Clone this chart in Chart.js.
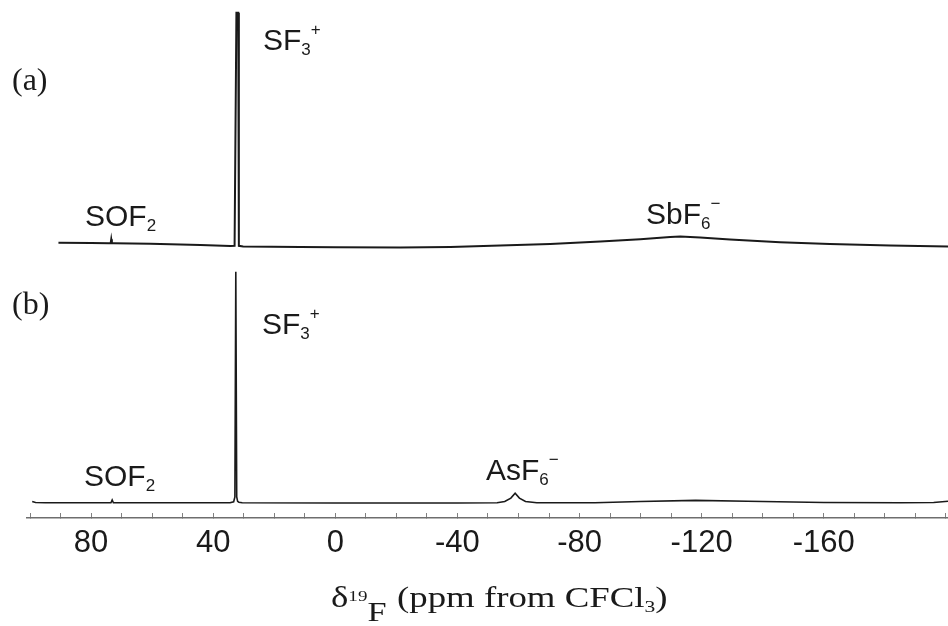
<!DOCTYPE html>
<html>
<head>
<meta charset="utf-8">
<script src="https://cdn.jsdelivr.net/npm/chart.js@4.4.1/dist/chart.umd.min.js"></script>
<style>
  html, body { margin: 0; padding: 0; background: #fff; }
  #wrap { position: relative; width: 948px; height: 626px; }
</style>
</head>
<body>
<div id="wrap"><canvas id="nmr" width="948" height="626"></canvas></div>
<script>
// 19F spectrum (a): chemical shift (ppm) and intensity (SF3+ ~ 100)
var ppmA = [90.7, 80, 74.2, 73.6, 73.4, 73.2, 72.6, 60.6, 44.2, 34.4, 33.0, 32.4, 32.2, 31.8, 31.6, 30.2,
  11.5, 0, -21.3, -37.7, -54, -70.4, -86.8, -99.9, -109.7, -113, -119.5, -129.3, -145.7, -162, -181.7, -200.7];
var intA = [1.4, 1.3, 1.2, 1.2, 3.0, 1.2, 1.2, 0.95, 0.45, 0.05, 0.1, 101, 101, 101, 0.1, -0.2,
  -0.4, -0.55, -0.65, -0.4, 0.2, 0.85, 1.95, 3.0, 3.9, 4.1, 3.7, 2.8, 1.7, 0.9, 0.2, -0.2];

// 19F spectrum (b)
var ppmB = [99.3, 98.2, 95, 77, 73.5, 73.1, 72.7, 44.2, 34.5, 33.3, 32.9, 32.6, 32.3, 32.0, 31.6, 30.5,
  0, -40, -53, -55.5, -57.5, -58.9, -60.3, -62.3, -66, -85, -100, -118, -135, -160, -185, -196, -200.7];
var intB = [0.5, 0.1, 0, 0, 0, 1.2, 0, 0, 0, 0.4, 2.5, 100, 2.5, 0.6, 0.2, 0,
  -0.1, -0.1, 0, 0.5, 2.0, 4.1, 2.0, 0.5, 0, 0, 0.5, 1.0, 0.6, 0.1, 0, 0.1, 0.6];

// axis
var tickLabels = [80, 40, 0, -40, -80, -120, -160];
var xMin = -200.7;
var xMax = 101;

var toPoints = function (xs, ys) {
  return xs.map(function (x, i) { return { x: x, y: ys[i] }; });
};

// petit utilitaire : formule avec indices / exposants
var drawParts = function (ctx, parts, x, y, family, size) {
  var cx = x;
  parts.forEach(function (p) {
    var fs = p.size || (p.k === "n" ? size : Math.round(size * 0.58));
    var dy = p.dy || 0;
    if (p.k === "sub") dy = size * 0.16;
    if (p.k === "sup") dy = -size * 0.5;
    ctx.font = fs + "px " + family;
    ctx.fillText(p.t, cx, y + dy);
    cx += ctx.measureText(p.t).width + (p.gap || 0);
  });
};

var labelsPlugin = {
  id: "nmrLabels",
  afterDraw: function (chart) {
    var ctx = chart.ctx;
    ctx.save();
    ctx.fillStyle = "#1a1a1a";
    ctx.textBaseline = "alphabetic";
    ctx.textAlign = "left";
    var sans = "'Liberation Sans', Arial, sans-serif";
    var serif = "'Liberation Serif', 'Times New Roman', serif";

    ctx.font = "32px " + serif;
    ctx.fillText("(a)", 12, 90);
    ctx.fillText("(b)", 12, 314);

    drawParts(ctx, [{ t: "SF", k: "n" }, { t: "3", k: "sub" }, { t: "+", k: "sup" }], 263, 50, sans, 30);
    drawParts(ctx, [{ t: "SOF", k: "n" }, { t: "2", k: "sub" }], 85, 226, sans, 30);
    drawParts(ctx, [{ t: "SbF", k: "n" }, { t: "6", k: "sub" }, { t: "\u2212", k: "sup" }], 646, 224, sans, 30);
    drawParts(ctx, [{ t: "SF", k: "n" }, { t: "3", k: "sub" }, { t: "+", k: "sup" }], 262, 334, sans, 30);
    drawParts(ctx, [{ t: "SOF", k: "n" }, { t: "2", k: "sub" }], 84, 486, sans, 30);
    drawParts(ctx, [{ t: "AsF", k: "n" }, { t: "6", k: "sub" }, { t: "\u2212", k: "sup" }], 486, 480, sans, 30);

    // titre de l'axe
    ctx.translate(331, 607);
    ctx.scale(1.27, 1);
    drawParts(ctx, [
      { t: "\u03b4", k: "x", size: 29 },
      { t: "19", k: "x", size: 15, dy: -6 },
      { t: "F", k: "x", size: 27, dy: 14, gap: 1 },
      { t: " (ppm from CFCl", k: "n" },
      { t: "3", k: "sub" },
      { t: ")", k: "n" }
    ], 0, 0, serif, 29);
    ctx.restore();
  }
};

var ctx = document.getElementById("nmr");

new Chart(ctx, {
  type: "line",
  data: {
    datasets: [
      {
        data: toPoints(ppmA, intA),
        yAxisID: "ya",
        borderColor: "#1a1a1a",
        borderWidth: 2,
        pointRadius: 0,
        tension: 0,
      },
      {
        data: toPoints(ppmB, intB),
        yAxisID: "yb",
        borderColor: "#1a1a1a",
        borderWidth: 1.6,
        pointRadius: 0,
        tension: 0,
      },
    ],
  },
  options: {
    responsive: false,
    animation: false,
    layout: { padding: { left: 27, right: 0, top: 0, bottom: 0 } },
    plugins: {
      legend: { display: false },
      tooltip: { enabled: false },
    },
    scales: {
      x: {
        type: "linear",
        reverse: true,
        min: xMin,
        max: xMax,
        afterBuildTicks: function (scale) {
          var t = [];
          for (var v = 100; v >= -200; v -= 10) t.push({ value: v });
          scale.ticks = t;
        },
        afterFit: function (scale) {
          scale.height = 108;
          scale.paddingLeft = 0;
          scale.paddingRight = 0;
        },
        ticks: {
          autoSkip: false,
          maxRotation: 0,
          padding: 12,
          color: "#1a1a1a",
          font: { family: "'Liberation Sans', Arial, sans-serif", size: 31 },
          callback: function (value) {
            return tickLabels.indexOf(value) >= 0 ? String(value) : "";
          },
        },
        grid: {
          drawOnChartArea: false,
          drawTicks: true,
          tickLength: -5,
          color: "#808080",
          lineWidth: 1,
        },
        border: { display: true, color: "#6e6e6e", width: 1.5 },
      },
      ya: { display: false, min: -117.7, max: 106.5 },
      yb: { display: false, min: -6.62, max: 217.6 },
    },
  },
  plugins: [labelsPlugin],
});
</script>
</body>
</html>
